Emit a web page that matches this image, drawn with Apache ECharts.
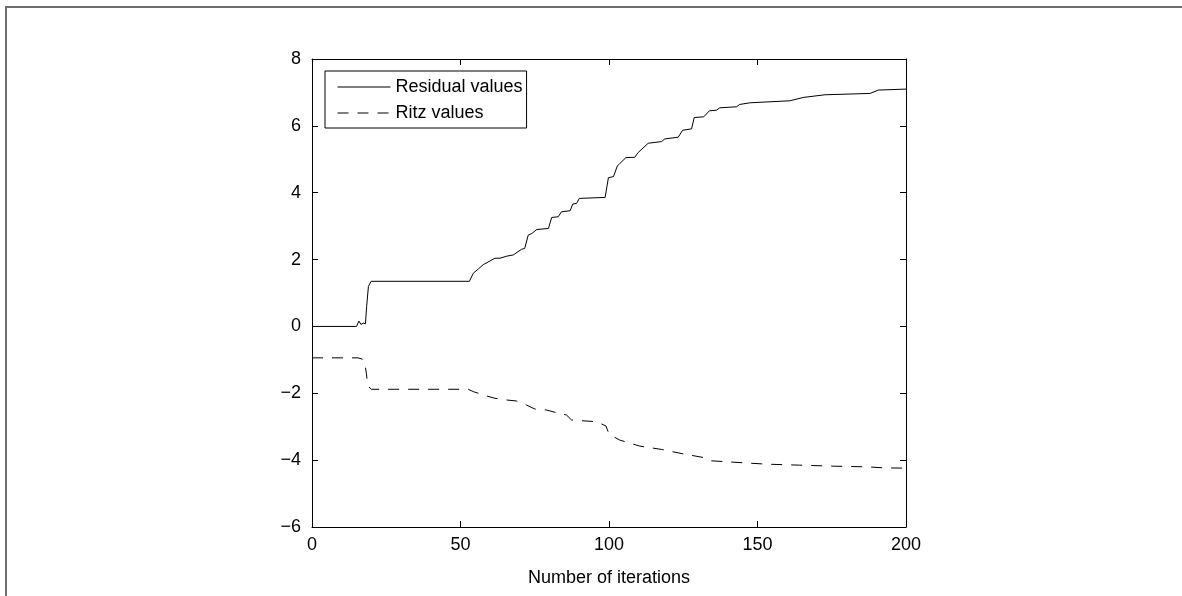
<!DOCTYPE html>
<html lang="en">
<head>
    <meta charset="UTF-8">
    <title>Residual and Ritz values</title>
    <script src="https://cdn.jsdelivr.net/npm/echarts@6/dist/echarts.min.js"></script>
    <style>
        html, body { margin: 0; padding: 0; background: #fff; }
        #main { width: 1182px; height: 596px; }
    </style>
</head>
<body>
    <div id="main"></div>

    <script>
        // iteration number / value pairs
        var resIter = [0, 15, 15.8, 16.5, 17.3, 18, 18.4, 19, 19.9, 53, 54.3, 56, 57.7, 61.6, 63.3, 65.5, 67.8,
            70.6, 71.6, 72.8, 74, 75.7, 79.6, 80.7, 82.9, 84, 86.9, 87.8, 89.1, 90, 98.7, 99.8, 101.5, 102.8,
            103.7, 105.7, 108.7, 109.8, 113.2, 117.7, 118.8, 123.3, 124.8, 127.8, 128.7, 131.9, 133.8, 136.2,
            137.3, 142.9, 144, 147.5, 160.9, 165.4, 172.7, 187.9, 190.7, 200];
        var resVal = [0, 0, 0.16, 0.06, 0.1, 0.08, 0.6, 1.2, 1.35, 1.35, 1.59, 1.72, 1.85, 2.04, 2.04, 2.1, 2.14,
            2.31, 2.33, 2.73, 2.78, 2.9, 2.93, 3.26, 3.28, 3.43, 3.46, 3.66, 3.68, 3.83, 3.86, 4.45, 4.48, 4.8,
            4.88, 5.05, 5.06, 5.2, 5.48, 5.53, 5.61, 5.66, 5.87, 5.91, 6.25, 6.27, 6.45, 6.47,
            6.54, 6.57, 6.64, 6.69, 6.75, 6.85, 6.93, 6.97, 7.07, 7.1];

        var ritzIter = [0, 15.5, 17, 17.7, 18.3, 18.8, 20, 52.6, 54.3, 58.8, 61.6, 65.5, 68.8, 72.2, 75, 78.9,
            82.3, 85.7, 87.4, 95.8, 99, 100, 103.6, 110.4, 117.7, 124.3, 131.7, 134.4, 141.7, 152.9, 164.2,
            175.5, 186.8, 192.4, 200];
        var ritzVal = [-0.94, -0.94, -0.98, -1.06, -1.4, -1.78, -1.88, -1.88, -1.95, -2.08, -2.15, -2.2, -2.23,
            -2.35, -2.47, -2.5, -2.58, -2.65, -2.8, -2.85, -2.98, -3.22, -3.4, -3.58, -3.68, -3.8, -3.92, -4.02,
            -4.06, -4.12, -4.15, -4.18, -4.2, -4.23, -4.24];

        var xTicks = { min: 0, max: 200, interval: 50 };
        var yTicks = { min: -6, max: 8, interval: 2 };

        var fontName = '"Liberation Sans", Arial, sans-serif';

        function pairs(xs, ys) {
            return xs.map(function (x, i) { return [x, ys[i]]; });
        }

        function axisBase(extra) {
            var base = {
                type: 'value',
                axisLine: { show: true, onZero: false, lineStyle: { color: '#000', width: 1 } },
                axisTick: { show: true, inside: true, length: 6, lineStyle: { color: '#000' } },
                splitLine: { show: false }
            };
            return Object.assign(base, extra);
        }

        var myChart = echarts.init(document.getElementById('main'));

        myChart.setOption({
            animation: false,
            backgroundColor: '#fff',
            textStyle: { fontFamily: fontName },
            grid: { left: 312, top: 59, right: 276, bottom: 69 },
            graphic: [{
                type: 'polyline',
                shape: { points: [[6, 596], [6, 7], [1182, 7]] },
                style: { stroke: '#6e6e6e', lineWidth: 2, fill: null }
            }],
            legend: {
                orient: 'vertical',
                left: 325,
                top: 71,
                padding: [7, 4, 6, 12],
                itemGap: 8,
                itemWidth: 53,
                itemHeight: 18,
                borderColor: '#000',
                borderWidth: 1,
                backgroundColor: '#fff',
                // hide the marker dot, keep the line sample
                itemStyle: { color: 'transparent', borderWidth: 0, opacity: 0 },
                lineStyle: { width: 1 },
                textStyle: { fontSize: 18, color: '#000', fontFamily: fontName },
                data: ['Residual values', 'Ritz values']
            },
            xAxis: [
                axisBase({
                    min: xTicks.min, max: xTicks.max, interval: xTicks.interval,
                    position: 'bottom',
                    axisLabel: { color: '#000', fontSize: 18, margin: 9, fontFamily: fontName },
                    name: 'Number of iterations',
                    nameLocation: 'middle',
                    nameGap: 42,
                    nameTextStyle: { color: '#000', fontSize: 18, fontFamily: fontName }
                }),
                axisBase({
                    min: xTicks.min, max: xTicks.max, interval: xTicks.interval,
                    position: 'top',
                    axisLabel: { show: false }
                })
            ],
            yAxis: [
                axisBase({
                    min: yTicks.min, max: yTicks.max, interval: yTicks.interval,
                    position: 'left',
                    axisLabel: {
                        color: '#000', fontSize: 18, margin: 11, fontFamily: fontName,
                        formatter: function (v) { return v < 0 ? '\u2212' + (-v) : String(v); }
                    }
                }),
                axisBase({
                    min: yTicks.min, max: yTicks.max, interval: yTicks.interval,
                    position: 'right',
                    axisLabel: { show: false }
                })
            ],
            series: [{
                name: 'Residual values',
                type: 'line',
                data: pairs(resIter, resVal),
                showSymbol: false,
                symbol: 'none',
                lineStyle: { color: '#000', width: 1, type: 'solid' },
                itemStyle: { color: '#000' }
            }, {
                name: 'Ritz values',
                type: 'line',
                data: pairs(ritzIter, ritzVal),
                showSymbol: false,
                symbol: 'none',
                lineStyle: { color: '#000', width: 1, type: [11, 9] },
                itemStyle: { color: '#000' }
            }]
        });
    </script>
</body>
</html>
